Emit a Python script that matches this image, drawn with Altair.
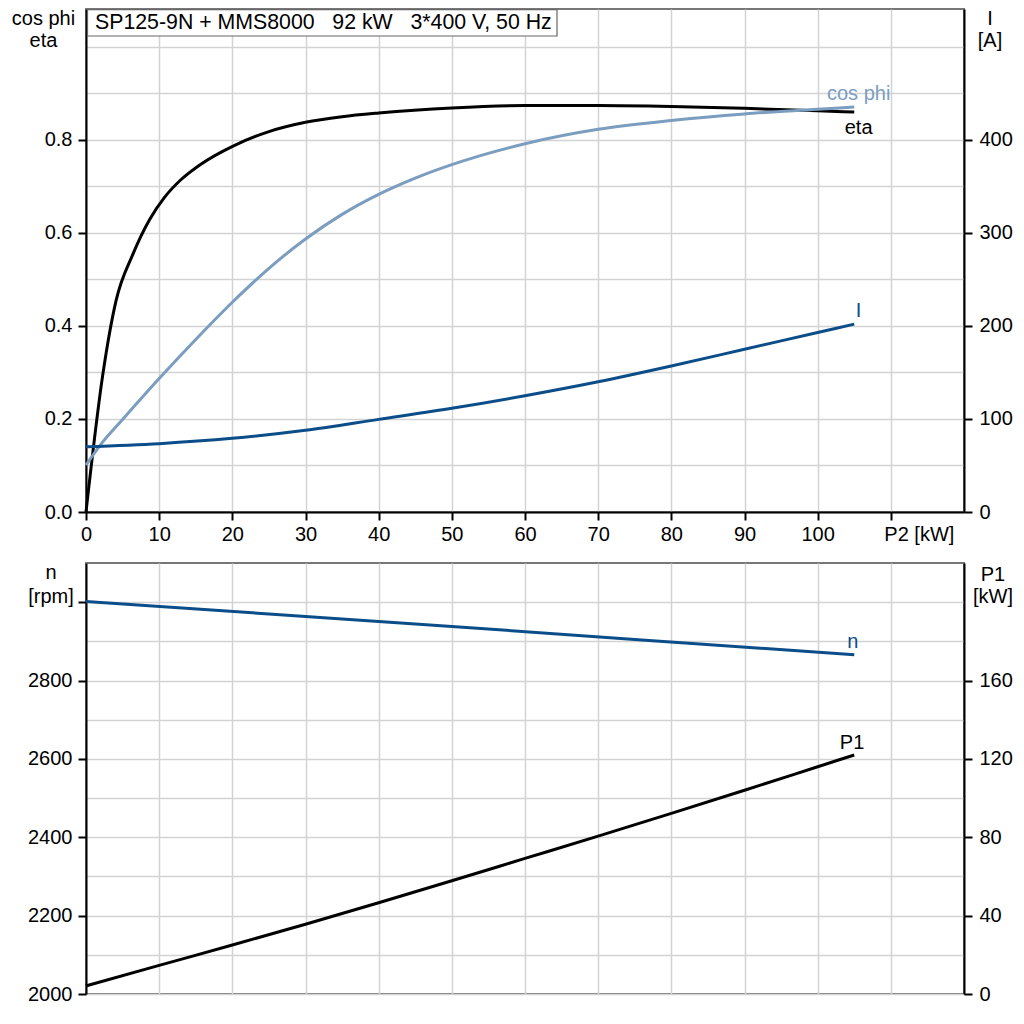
import altair as alt
import pandas as pd

FONT = "Liberation Sans"
BLACK = "#000000"
LIGHT = "#7b9dbf"
DARK = "#0b4d89"

# ---------------- data ----------------
# top panel: P2 [kW] vs eta, cos phi (left axis) and I [A] (right axis)
eta_p2 = [0, 2.3, 4.1, 6.4, 8.7, 10.7, 13.0, 15.7, 20.1, 25, 30, 35, 40, 50, 60, 70, 80, 90, 100, 105]
eta_val = [0.0, 0.296, 0.454, 0.554, 0.629, 0.676, 0.715, 0.748, 0.787, 0.818, 0.838, 0.850,
           0.858, 0.869, 0.874, 0.874, 0.872, 0.868, 0.863, 0.860]

cos_p2 = [0, 2, 5, 10, 15, 20, 25, 30, 35, 40, 45, 50, 60, 70, 80, 90, 100, 105]
cos_val = [0.101, 0.145, 0.199, 0.287, 0.371, 0.451, 0.524, 0.587, 0.640, 0.683, 0.718,
           0.747, 0.792, 0.823, 0.842, 0.856, 0.866, 0.871]

i_p2 = [0, 10, 20, 30, 40, 50, 60, 70, 80, 90, 100, 105]
i_val = [70.2, 73.5, 79.2, 87.8, 99.6, 111.5, 125, 140, 157, 175, 193, 202]

# bottom panel: n [rpm] (left axis) and P1 [kW] (right axis)
n_p2 = [0, 25, 50, 75, 105]
n_val = [3002, 2970, 2938, 2905, 2866]

p1_p2 = [0, 10, 20, 30, 40, 50, 60, 70, 80, 90, 100, 105]
p1_val = [4.1, 14.6, 25.0, 35.6, 46.6, 57.8, 69.2, 80.6, 92.2, 104.0, 116.0, 122.0]

# curve labels
lab_left = ["cos phi", "eta"]
lab_left_x = [105.6, 105.6]
lab_left_y = [0.886, 0.813]
lab_i_x = [105.6]
lab_i_y = [209.7]
lab_n_x = [104.8]
lab_n_y = [2884]
lab_p1_x = [104.7]
lab_p1_y = [125.2]

title_text = "SP125-9N + MMS8000\u00a0\u00a0 92 kW\u00a0\u00a0 3*400 V, 50 Hz"

# axis values
x_ticks = list(range(0, 111, 10))
cos_ticks = [0.0, 0.1, 0.2, 0.3, 0.4, 0.5, 0.6, 0.7, 0.8, 0.9, 1.0]
i_ticks = [0, 100, 200, 300, 400]
n_ticks = list(range(2000, 3001, 100))
p1_ticks = [0, 40, 80, 120, 160]

# ---------------- layout ----------------
W = 878
H1 = 503
H2 = 431
one = pd.DataFrame({"k": [0]})

x_scale = alt.Scale(domain=[0, 120], nice=False, zero=False)
cos_scale = alt.Scale(domain=[0, 1.0817], nice=False, zero=False)
i_scale = alt.Scale(domain=[0, 540.86], nice=False, zero=False)
n_scale = alt.Scale(domain=[2000, 3100], nice=False, zero=False)
p1_scale = alt.Scale(domain=[0, 220], nice=False, zero=False)

top_x_axis = alt.Axis(values=x_ticks, grid=True, orient="bottom", title=None, format="d",
                      labelFlush=False, labelOverlap=False, labelPadding=4,
                      labelExpr="datum.value == 110 ? 'P2 [kW]' : datum.label",
                      labelOffset={"condition": {"test": "datum.value == 110", "value": 28}, "value": 0})
bot_x_axis = alt.Axis(values=x_ticks, grid=True, orient="bottom", title=None,
                      labels=False, ticks=False, domain=False)

odd_cos = "round(datum.value*10) % 2 == 1 || datum.value > 0.85"
cos_axis = alt.Axis(orient="left", values=cos_ticks, grid=True, title=None, labelPadding=6,
                    labelOverlap=False,
                    labelExpr="(" + odd_cos + ") ? '' : format(datum.value, '.1f')",
                    tickOpacity={"condition": {"test": odd_cos, "value": 0}, "value": 1})
i_axis = alt.Axis(orient="right", values=i_ticks, grid=False, title=None, format="d",
                  labelPadding=7, labelOverlap=False)

odd_n = "round(datum.value/100) % 2 == 1"
n_axis = alt.Axis(orient="left", values=n_ticks, grid=True, title=None, labelPadding=6,
                  labelOverlap=False,
                  labelExpr="(" + odd_n + " || datum.value > 2900) ? '' : format(datum.value, 'd')",
                  tickOpacity={"condition": {"test": odd_n, "value": 0}, "value": 1})
p1_axis = alt.Axis(orient="right", values=p1_ticks, grid=False, title=None, format="d",
                   labelPadding=7, labelOverlap=False)


def txt(s, x, y, size=20, align="center", color=BLACK):
    return alt.Chart(one).mark_text(text=s, font=FONT, fontSize=size, align=align,
                                    baseline="alphabetic", color=color).encode(
        x=alt.value(x), y=alt.value(y))


# ---------------- top panel ----------------
left_df = pd.concat([
    pd.DataFrame({"p2": eta_p2, "v": eta_val, "s": "eta"}),
    pd.DataFrame({"p2": cos_p2, "v": cos_val, "s": "cos phi"}),
])
left_color = alt.Color("s:N", scale=alt.Scale(domain=["cos phi", "eta"], range=[LIGHT, BLACK]),
                       legend=None)
lab_left_df = pd.DataFrame({"p2": lab_left_x, "v": lab_left_y, "s": lab_left})

top_left = alt.layer(
    alt.Chart(left_df).mark_line(strokeWidth=3, interpolate="monotone").encode(
        x=alt.X("p2:Q", scale=x_scale, axis=top_x_axis),
        y=alt.Y("v:Q", scale=cos_scale, axis=cos_axis),
        color=left_color, detail="s:N"),
    alt.Chart(lab_left_df).mark_text(font=FONT, fontSize=20, align="center",
                                     baseline="alphabetic").encode(
        x=alt.X("p2:Q", scale=x_scale, axis=top_x_axis),
        y=alt.Y("v:Q", scale=cos_scale, axis=cos_axis),
        text="s:N", color=left_color),
)

top_right = alt.layer(
    alt.Chart(pd.DataFrame({"p2": i_p2, "v": i_val})).mark_line(
        strokeWidth=3, interpolate="monotone", color=DARK).encode(
        x=alt.X("p2:Q", scale=x_scale, axis=top_x_axis),
        y=alt.Y("v:Q", scale=i_scale, axis=i_axis)),
    alt.Chart(pd.DataFrame({"p2": lab_i_x, "v": lab_i_y})).mark_text(
        text="I", font=FONT, fontSize=20, align="center", baseline="alphabetic", color=DARK).encode(
        x=alt.X("p2:Q", scale=x_scale, axis=top_x_axis),
        y=alt.Y("v:Q", scale=i_scale, axis=i_axis)),
)

title_box = alt.Chart(one).mark_rect(fill="white", stroke="#666666", strokeWidth=1.2).encode(
    x=alt.value(1.5), x2=alt.value(471), y=alt.value(0.6), y2=alt.value(27))
anchor = alt.Chart(one).mark_rule(opacity=0, color="white").encode(
    x=alt.value(-76.5), y=alt.value(200), y2=alt.value(201))

top = alt.layer(
    top_left, top_right,
    title_box,
    txt(title_text, 9, 20, size=21.3, align="left"),
    txt("cos phi", -42.5, 16), txt("eta", -42.5, 38),
    txt("I", 904, 16), txt("[A]", 904, 38),
    anchor,
).resolve_scale(y="independent").properties(width=W, height=H1)

# ---------------- bottom panel ----------------
bot_left = alt.layer(
    alt.Chart(pd.DataFrame({"p2": n_p2, "v": n_val})).mark_line(
        strokeWidth=3, color=DARK).encode(
        x=alt.X("p2:Q", scale=x_scale, axis=bot_x_axis),
        y=alt.Y("v:Q", scale=n_scale, axis=n_axis)),
    alt.Chart(pd.DataFrame({"p2": lab_n_x, "v": lab_n_y})).mark_text(
        text="n", font=FONT, fontSize=20, align="center", baseline="alphabetic", color=DARK).encode(
        x=alt.X("p2:Q", scale=x_scale, axis=bot_x_axis),
        y=alt.Y("v:Q", scale=n_scale, axis=n_axis)),
)
bot_right = alt.layer(
    alt.Chart(pd.DataFrame({"p2": p1_p2, "v": p1_val})).mark_line(
        strokeWidth=3, interpolate="monotone", color=BLACK).encode(
        x=alt.X("p2:Q", scale=x_scale, axis=bot_x_axis),
        y=alt.Y("v:Q", scale=p1_scale, axis=p1_axis)),
    alt.Chart(pd.DataFrame({"p2": lab_p1_x, "v": lab_p1_y})).mark_text(
        text="P1", font=FONT, fontSize=20, align="center", baseline="alphabetic", color=BLACK).encode(
        x=alt.X("p2:Q", scale=x_scale, axis=bot_x_axis),
        y=alt.Y("v:Q", scale=p1_scale, axis=p1_axis)),
)

bottom = alt.layer(
    bot_left, bot_right,
    txt("n", -35, 16), txt("[rpm]", -35, 40),
    txt("P1", 907, 18), txt("[kW]", 907, 40),
).resolve_scale(y="independent").properties(width=W, height=H2)

chart = alt.vconcat(top, bottom, spacing=51).properties(
    padding=0, bounds="flush"
).configure_axis(
    labelFont=FONT, labelFontSize=20, labelColor="black",
    domainColor="black", domainWidth=2, tickColor="black", tickWidth=2, tickSize=8,
    gridColor="#d3d3d3", gridWidth=1.5
).configure_view(stroke="#777777", strokeWidth=2)

chart.save("out.html", embed_options={"renderer": "svg", "actions": False})
